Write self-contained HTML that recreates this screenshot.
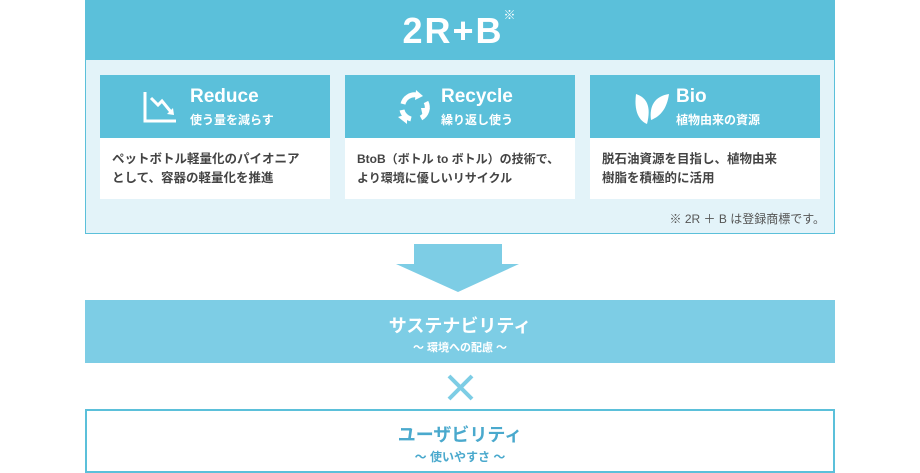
<!DOCTYPE html>
<html><head><meta charset="utf-8"><style>
*{margin:0;padding:0;box-sizing:border-box}
body{width:920px;height:473px;background:#fff;position:relative;font-family:"Liberation Sans","Noto Sans CJK JP",sans-serif;overflow:hidden}
.a{position:absolute}
.card{position:absolute;top:75px;width:230px;height:124px;background:#fff}
.ch{height:63px;background:#5bc0da;color:#fff;position:relative}
.ch .t{position:absolute;left:90px;top:11px;font-size:19px;font-weight:bold}
.ch .s{position:absolute;left:90px;top:36px;font-size:12px;font-weight:bold}
.cb{padding:12px 0 0 12px;font-size:12.5px;line-height:19px;color:#444;font-weight:bold;white-space:nowrap}
</style></head><body>
<div class="a" style="left:85px;top:0;width:750px;height:234px;background:#e3f3f9;border:1px solid #5bc0da"></div>
<div class="a" style="left:85px;top:0;width:750px;height:60px;background:#5bc0da;color:#fff;text-align:center;font-size:36px;font-weight:bold;line-height:62px;letter-spacing:2px">2R+B<span style="font-size:12px;vertical-align:top;line-height:30px;font-weight:normal">※</span></div>

<div class="card" style="left:100px"><div class="ch">
<svg class="a" style="left:43px;top:15px" width="36" height="34" viewBox="0 0 36 34"><path d="M2 2V31H33" stroke="#fff" stroke-width="3" fill="none"/><path d="M8 8L15 15L19 11L28 22" stroke="#fff" stroke-width="3" fill="none"/><path d="M24 24L31 25L30 18Z" fill="#fff"/></svg>
<div class="t">Reduce</div><div class="s">使う量を減らす</div></div>
<div class="cb">ペットボトル軽量化のパイオニア<br>として、容器の軽量化を推進</div></div>

<div class="card" style="left:345px"><div class="ch">
<svg class="a" style="left:50px;top:13px" width="38" height="38" viewBox="0 0 38 38"><g fill="none" stroke="#fff" stroke-width="5"><path d="M8 16A12 12 0 0 1 22 7"/><path d="M31 14A12 12 0 0 1 26 30"/><path d="M16 31A12 12 0 0 1 7 22"/></g><path d="M21 2L28 8L20 12Z M35 20L28 29L26 20Z M12 36L3 29L12 26Z" fill="#fff"/></svg>
<div class="t" style="left:96px">Recycle</div><div class="s" style="left:96px">繰り返し使う</div></div>
<div class="cb" style="font-size:12px">BtoB（ボトル to ボトル）の技術で、<br>より環境に優しいリサイクル</div></div>

<div class="card" style="left:590px"><div class="ch">
<svg class="a" style="left:43px;top:15px" width="36" height="36" viewBox="0 0 36 36"><path d="M3 4C15 8 18 18 14 34C5 30 1 20 3 4Z" fill="#fff"/><path d="M36 4C22 6 16 16 18 30C28 26 34 18 36 4Z" fill="#fff"/></svg>
<div class="t" style="left:86px">Bio</div><div class="s" style="left:86px">植物由来の資源</div></div>
<div class="cb">脱石油資源を目指し、植物由来<br>樹脂を積極的に活用</div></div>

<div class="a" style="left:650px;top:210px;font-size:12px;color:#555;width:175px;text-align:right">※ 2R ＋ B は登録商標です。</div>

<svg class="a" style="left:396px;top:244px" width="124" height="49"><path d="M18 0H106V20H123L62 48L0 20H18Z" fill="#7dcde5"/></svg>

<div class="a" style="left:85px;top:300px;width:750px;height:63px;background:#7dcde5;color:#fff;text-align:center">
<div style="font-size:18px;font-weight:bold;margin-top:12px">サステナビリティ</div>
<div style="font-size:11px;font-weight:bold;margin-top:1px">〜 環境への配慮 〜</div></div>

<svg class="a" style="left:447px;top:374px" width="27" height="27"><path d="M2 2L25 25M25 2L2 25" stroke="#7dcde5" stroke-width="4"/></svg>

<div class="a" style="left:85px;top:409px;width:750px;height:64px;border:2px solid #5bc0da;color:#4aa9cd;text-align:center">
<div style="font-size:18px;font-weight:bold;margin-top:10px">ユーザビリティ</div>
<div style="font-size:12px;font-weight:bold;margin-top:1px">〜 使いやすさ 〜</div></div>
</body></html>
